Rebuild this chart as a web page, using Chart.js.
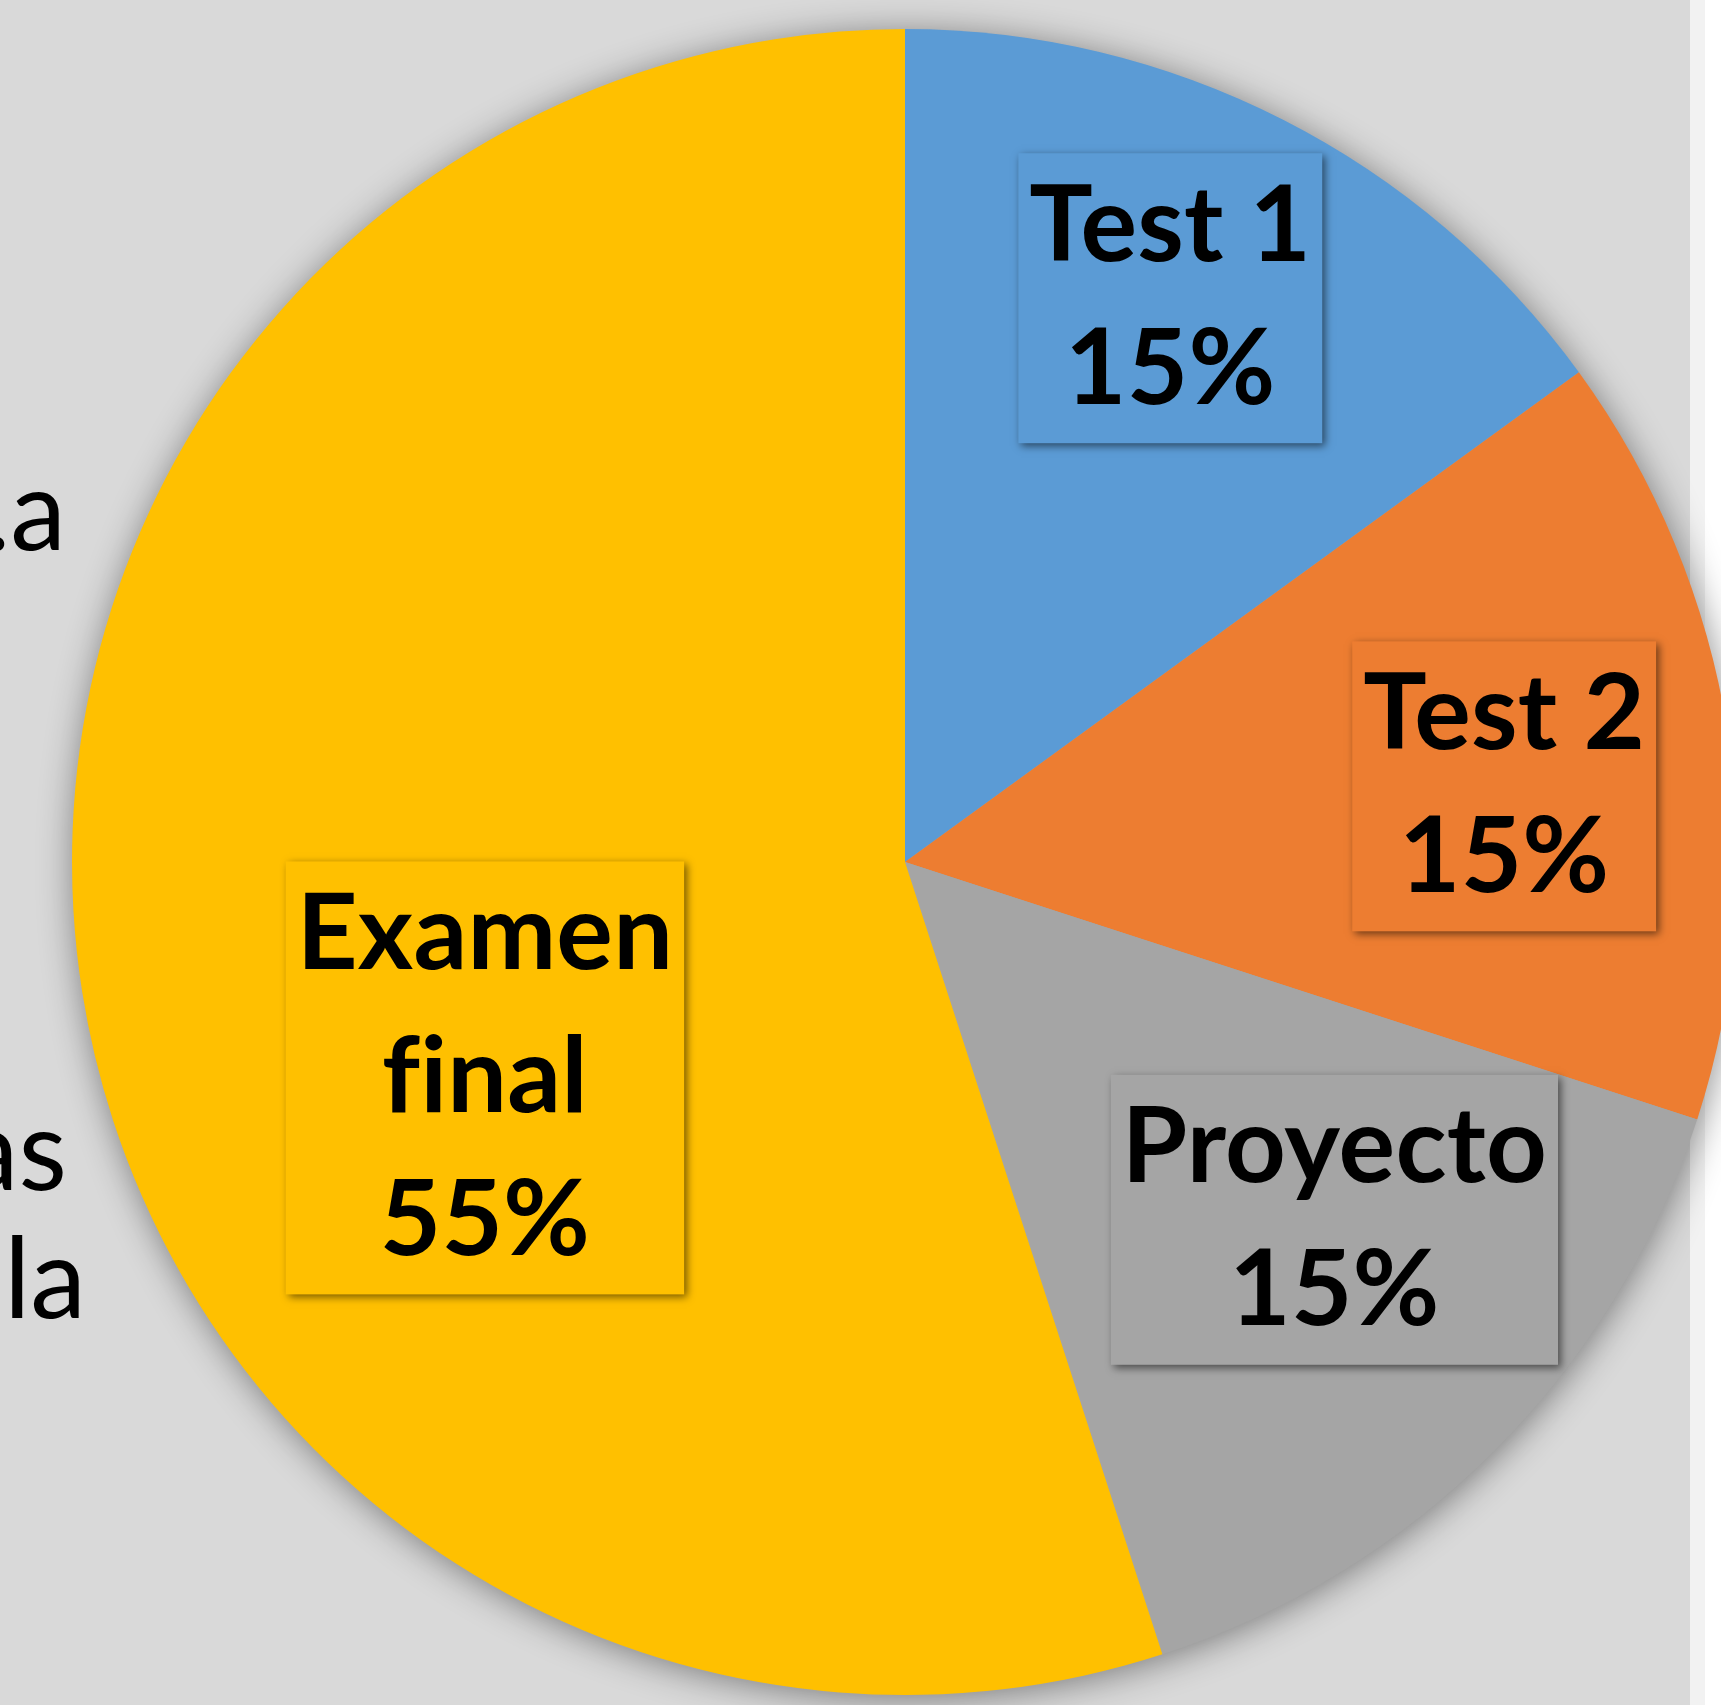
<!DOCTYPE html>
<html lang="es">
<head>
<meta charset="utf-8">
<title>Evaluación</title>
<script src="https://cdn.jsdelivr.net/npm/chart.js@4.4.1/dist/chart.umd.min.js"></script>
<style>
    html, body { margin: 0; padding: 0; width: 1721px; height: 1705px; overflow: hidden; background: #fff; }
    #slide { position: absolute; left: 0; top: 0; width: 1690px; height: 1705px; background: #d9d9d9; overflow: hidden; }
    #edge { position: absolute; left: 1690px; top: 0; width: 15px; height: 1705px; background: #f2f2f2; }
    .frag { position: absolute; font-family: Lato, sans-serif; font-size: 112px; line-height: 1; color: #000; text-align: right; white-space: nowrap; }
    #pie { position: absolute; left: 32px; top: -11px; }
</style>
</head>
<body>
<div id="slide">
    <div class="frag" style="left:-600px; width:666px; top:451px;">1.a</div>
    <div class="frag" style="left:-600px; width:667px; top:1091px;">notas</div>
    <div class="frag" style="left:-600px; width:686px; top:1219px;">la</div>
</div>
<div id="edge"></div>
<canvas id="pie" width="1746" height="1746"></canvas>

<script>
// chart data
const categories = ['Test 1', 'Test 2', 'Proyecto', 'Examen final'];
const shares = [15, 15, 15, 55];
const colors = ['#5b9bd5', '#ed7d31', '#a5a5a5', '#ffc000'];

// label box placement, relative to each slice (degrees off the mid angle, fraction of radius)
const labelTurn = [-1.8, 1.8, -5.2, -18.2];
const labelReach = [0.748, 0.725, 0.671, 0.567];

const LABEL_SIZE = 106;
const LINE_H = 143;

function wrapText(ctx, text, maxW) {
    const words = text.split(' ');
    const out = [];
    let cur = '';
    words.forEach(w => {
        const test = cur ? cur + ' ' + w : w;
        if (cur && ctx.measureText(test).width > maxW) { out.push(cur); cur = w; }
        else cur = test;
    });
    if (cur) out.push(cur);
    return out;
}

// soft shadow under the whole pie
const pieShadow = {
    id: 'pieShadow',
    beforeDatasetsDraw(chart) {
        const arc = chart.getDatasetMeta(0).data[0];
        if (!arc) return;
        const ctx = chart.ctx;
        ctx.save();
        ctx.shadowColor = 'rgba(0,0,0,0.45)';
        ctx.shadowBlur = 36;
        ctx.shadowOffsetX = 2;
        ctx.shadowOffsetY = 4;
        ctx.fillStyle = '#a5a5a5';
        ctx.beginPath();
        ctx.arc(arc.x, arc.y, arc.outerRadius - 1, 0, Math.PI * 2);
        ctx.fill();
        ctx.restore();
    }
};

// boxed category + percent labels
const boxLabels = {
    id: 'boxLabels',
    afterDatasetsDraw(chart) {
        const ctx = chart.ctx;
        const meta = chart.getDatasetMeta(0);
        ctx.save();
        ctx.font = `bold ${LABEL_SIZE}px Lato`;
        ctx.textRendering = 'optimizeSpeed'; // no "fi" ligature
        ctx.letterSpacing = '0.2px';
        meta.data.forEach((arc, i) => {
            const lines = wrapText(ctx, categories[i], 500).concat([shares[i] + '%']);
            const ang = (arc.startAngle + arc.endAngle) / 2 + labelTurn[i] * Math.PI / 180;
            const dist = arc.outerRadius * labelReach[i];
            const cx = arc.x + Math.cos(ang) * dist;
            const cy = arc.y + Math.sin(ang) * dist;
            const w = Math.max(...lines.map(l => ctx.measureText(l).width)) + 22;
            const h = lines.length * LINE_H + 4;
            ctx.shadowColor = 'rgba(0,0,0,0.55)';
            ctx.shadowBlur = 8;
            ctx.shadowOffsetX = 3;
            ctx.shadowOffsetY = 3;
            ctx.fillStyle = colors[i];
            ctx.fillRect(cx - w / 2, cy - h / 2, w, h);
            ctx.shadowColor = 'transparent';
            ctx.fillStyle = '#000';
            ctx.textAlign = 'center';
            ctx.textBaseline = 'middle';
            lines.forEach((l, k) => ctx.fillText(l, cx, cy - h / 2 + 2 + LINE_H * (k + 0.5)));
        });
        ctx.restore();
    }
};

function drawChart() {
    new Chart(document.getElementById('pie'), {
        type: 'pie',
        data: {
            labels: categories,
            datasets: [{ data: shares, backgroundColor: colors, borderWidth: 0 }]
        },
        options: {
            responsive: false,
            animation: false,
            layout: { padding: 40 },
            plugins: { legend: { display: false }, tooltip: { enabled: false } }
        },
        plugins: [pieShadow, boxLabels]
    });
}

document.fonts.load(`bold ${LABEL_SIZE}px Lato`).then(drawChart, drawChart);
</script>
</body>
</html>
